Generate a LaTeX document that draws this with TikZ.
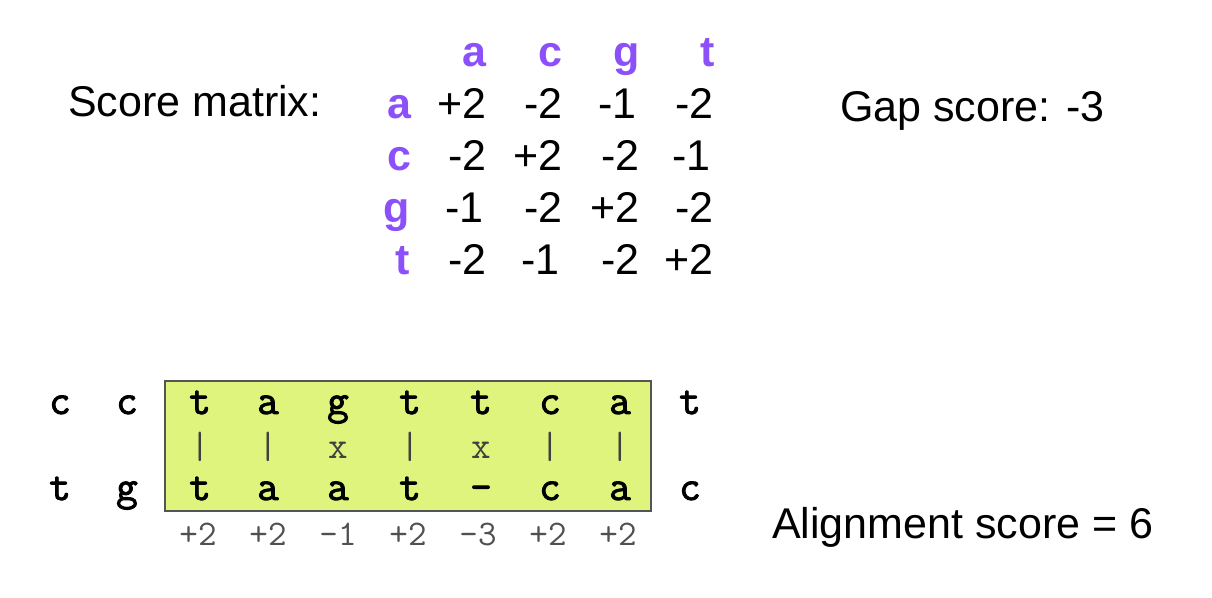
\documentclass[tikz,border=0pt]{standalone}
\usepackage{fontspec}
\setmainfont{Liberation Sans}
\newfontfamily\seqfont[FakeBold=2.2]{Latin Modern Mono}
\newfontfamily\plainmono{Latin Modern Mono}
\definecolor{mpurple}{RGB}{140,80,250}
\definecolor{boxfill}{RGB}{222,244,124}
\definecolor{boxline}{RGB}{85,85,85}
\definecolor{scoregray}{RGB}{80,80,80}
\tikzset{
  big/.style={font=\fontsize{43}{50}\selectfont, inner sep=0pt, anchor=base west},
  hdr/.style={font=\fontsize{43}{50}\selectfont\bfseries, text=mpurple, inner sep=0pt, anchor=base east},
  val/.style={font=\fontsize{43}{50}\selectfont, inner sep=0pt, anchor=base east},
  seq/.style={font=\fontsize{42}{48}\selectfont\seqfont, inner sep=0pt, anchor=base},
  mid/.style={font=\fontsize{38}{44}\selectfont\plainmono, text=black!75, inner sep=0pt, anchor=base},
  sc/.style={font=\fontsize{36}{42}\selectfont\plainmono, text=scoregray, inner sep=0pt, anchor=base},
  alignbox/.style={draw=boxline, fill=boxfill, line width=1.2pt}
}
\begin{document}
\begin{tikzpicture}[x=1pt,y=-1pt]
\useasboundingbox (0,0) rectangle (1212,597);
% labels
\node[big] (sm) at (68,116) {Score matrix:};
\node[big] (gs) at (840,121) {Gap score: -3};
\node[big] (as) at (772,538) {Alignment score = 6};
% matrix headers
\node[hdr] (ha) at (487,66) {a};
\node[hdr] (hc) at (563,66) {c};
\node[hdr] (hg) at (640,66) {g};
\node[hdr] (ht) at (715,66) {t};
\node[hdr] (ra) at (412,118) {a};
\node[hdr] (rc) at (412,170) {c};
\node[hdr] (rg) at (410,222) {g};
\node[hdr] (rt) at (410,274) {t};
% values
\node[val] (v11) at (487,118) {+2};
\node[val] (v12) at (563,118) {-2};
\node[val] (v13) at (637,118) {-1};
\node[val] (v14) at (714,118) {-2};
\node[val] (v21) at (487,170) {-2};
\node[val] (v22) at (563,170) {+2};
\node[val] (v23) at (640,170) {-2};
\node[val] (v24) at (711,170) {-1};
\node[val] (v31) at (484,222) {-1};
\node[val] (v32) at (563,222) {-2};
\node[val] (v33) at (640,222) {+2};
\node[val] (v34) at (714,222) {-2};
\node[val] (v41) at (487,274) {-2};
\node[val] (v42) at (560,274) {-1};
\node[val] (v43) at (640,274) {-2};
\node[val] (v44) at (714,274) {+2};
% alignment box
\draw[alignbox] (165,381) rectangle (651,511);
% top sequence
\foreach \x/\c [count=\i] in {60/c,127/c,200/t,268/a,338/g,410/t,481/t,550/c,620/a,690/t}
  \node[seq] (top\i) at (\x,414) {\c};
\foreach \x/\c [count=\i] in {200/|,268/|,338/x,410/|,481/x,550/|,620/|}
  \node[mid] (mid\i) at (\x,458) {\c};
\foreach \x/\c [count=\i] in {60/t,127/g,200/t,268/a,338/a,410/t,481/-,550/c,620/a,690/c}
  \node[seq] (bot\i) at (\x,500) {\c};
\foreach \x/\c [count=\i] in {198/+2,268/+2,338/-1,408/+2,478/-3,548/+2,618/+2}
  \node[sc] (s\i) at (\x,545) {\c};
\end{tikzpicture}
\end{document}
